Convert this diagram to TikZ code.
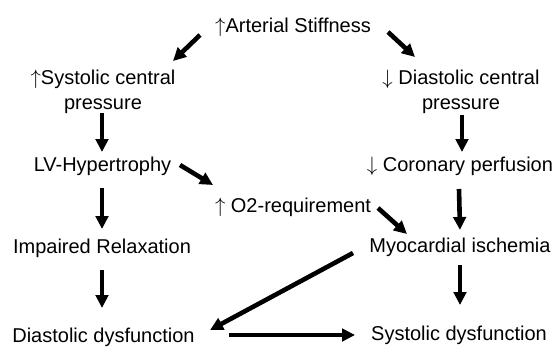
\documentclass[tikz,border=0pt]{standalone}
\usepackage{fontspec}
\setmainfont{Liberation Sans}
\usetikzlibrary{arrows.meta}
\newcommand{\myup}{\ensuremath{\uparrow}}
\newcommand{\mydown}{\ensuremath{\downarrow}}
\begin{document}
\begin{tikzpicture}[x=1pt,y=-1pt,
  lbl/.style={anchor=base,inner sep=0pt,align=center,font=\fontsize{20}{25}\selectfont},
  arr/.style={line width=4.6pt,-{Triangle[length=13pt,width=12.5pt]}}]
\useasboundingbox (0,0) rectangle (557,346);
\node[lbl] (AS)  at (293,32)  {\myup Arterial Stiffness};
\node[lbl] (SCP) at (103,109)  {\myup Systolic central\\pressure};
\node[lbl] (DCP) at (461,109)  {\mydown{} Diastolic central\\pressure};
\node[lbl] (LVH) at (102.5,171) {LV-Hypertrophy};
\node[lbl] (CP)  at (460,171) {\mydown{} Coronary perfusion};
\node[lbl] (O2)  at (293,212) {\myup{} O2-requirement};
\node[lbl] (IR)  at (102,253) {Impaired Relaxation};
\node[lbl] (MI)  at (460,252) {Myocardial ischemia};
\node[lbl] (DD)  at (103.5,342) {Diastolic dysfunction};
\node[lbl] (SD)  at (459,340) {Systolic dysfunction};
\draw[arr] ([shift={(-93,3)}]AS.base) -- ([shift={(70,-48)}]SCP.base);
\draw[arr] ([shift={(95,0)}]AS.base) -- ([shift={(-46,-52)}]DCP.base);
\draw[arr] ([shift={(-1,4)}]SCP.base) -- ([shift={(-0.5,-19)}]LVH.base);
\draw[arr] ([shift={(1,6)}]DCP.base) -- ([shift={(2,-19)}]CP.base);
\draw[arr] ([shift={(77.5,-6)}]LVH.base) -- ([shift={(-80,-27)}]O2.base);
\draw[arr] ([shift={(-0.5,17)}]LVH.base) -- ([shift={(0,-24)}]IR.base);
\draw[arr] ([shift={(-1,18)}]CP.base) -- ([shift={(0,-22)}]MI.base);
\draw[arr] ([shift={(85,-4)}]O2.base) -- ([shift={(-53,-18)}]MI.base);
\draw[arr] ([shift={(0,17)}]IR.base) -- ([shift={(-1.5,-34)}]DD.base);
\draw[arr] ([shift={(0,13)}]MI.base) -- ([shift={(1,-35)}]SD.base);
\draw[arr] ([shift={(-107,1)}]MI.base) -- ([shift={(106.5,-12)}]DD.base);
\draw[arr] ([shift={(125.5,-7)}]DD.base) -- ([shift={(-104,-5)}]SD.base);
\end{tikzpicture}
\end{document}
